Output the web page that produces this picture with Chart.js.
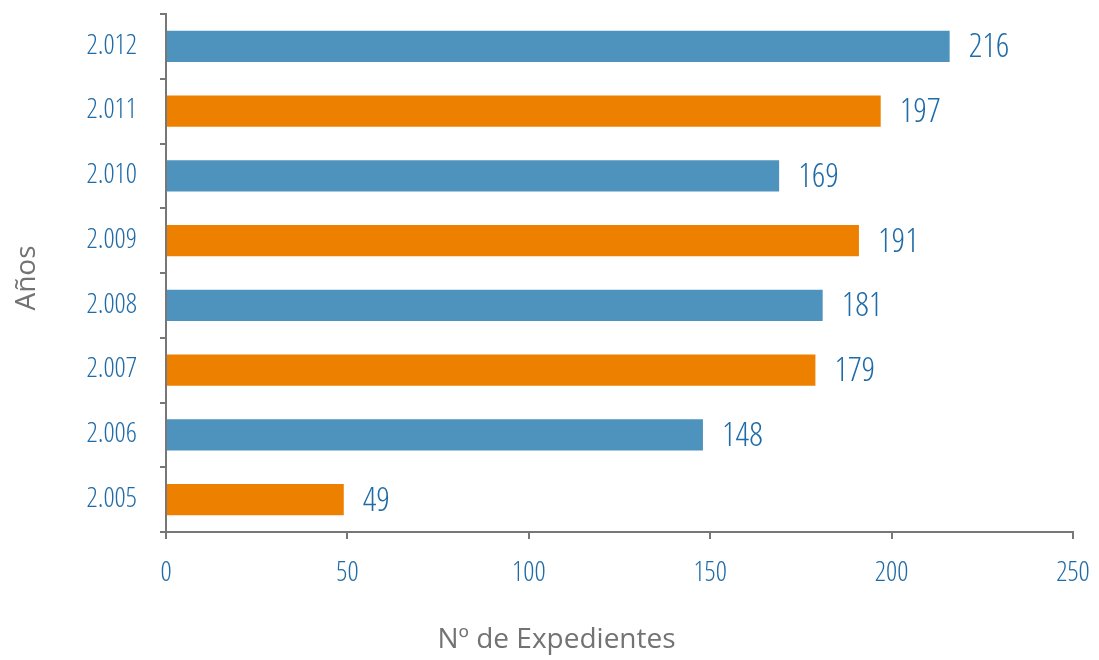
<!DOCTYPE html>
<html>
<head>
<meta charset="utf-8">
<script src="https://cdn.jsdelivr.net/npm/chart.js@4"></script>
<style>
  html, body { margin: 0; padding: 0; background: #fff; }
  #wrap { width: 1099px; height: 660px; }
</style>
</head>
<body>
<div id="wrap"><canvas id="barChart" width="1099" height="660"></canvas></div>
<script>
(() => {
    'use strict';

    // Datos (años en orden cronológico)
    const years = ['2.005', '2.006', '2.007', '2.008', '2.009', '2.010', '2.011', '2.012'];
    const expedientes = [49, 148, 179, 181, 191, 169, 197, 216];
    const xTicks = [0, 50, 100, 150, 200, 250];

    const BLUE = '#4d93be';
    const ORANGE = '#ee8000';
    const TEXT_BLUE = '#1f6ba8';
    const GREY = '#777777';
    const FONT = "'Open Sans Condensed Light', 'Roboto Condensed', sans-serif";
    const TITLE_FONT = "'Open Sans', sans-serif";

    const barColors = years.map((y, i) => (i % 2 === 0 ? ORANGE : BLUE));

    // Etiquetas de valor al final de cada barra
    const valueLabels = {
        id: 'valueLabels',
        afterDatasetsDraw(chart) {
            const ctx = chart.ctx;
            const meta = chart.getDatasetMeta(0);
            ctx.save();
            ctx.font = '34px ' + FONT;
            ctx.fillStyle = TEXT_BLUE;
            ctx.textAlign = 'left';
            ctx.textBaseline = 'middle';
            meta.data.forEach((bar, i) => {
                ctx.fillText(String(expedientes[i]), bar.x + 19, bar.y + 2);
            });
            ctx.restore();
        }
    };

    // Títulos de los ejes
    const axisTitles = {
        id: 'axisTitles',
        afterDraw(chart) {
            const ctx = chart.ctx;
            const area = chart.chartArea;
            ctx.save();
            ctx.font = '28px ' + TITLE_FONT;
            ctx.fillStyle = '#737373';
            ctx.textAlign = 'center';
            ctx.textBaseline = 'middle';
            ctx.fillText('Nº de Expedientes', (area.left + area.right) / 2 - 63, area.bottom + 108);
            ctx.translate(27, (area.top + area.bottom) / 2 + 5);
            ctx.rotate(-Math.PI / 2);
            ctx.fillText('Años', 0, 0);
            ctx.restore();
        }
    };

    new Chart(document.getElementById('barChart'), {
        type: 'bar',
        data: {
            labels: years,
            datasets: [{
                data: expedientes,
                backgroundColor: barColors,
                borderWidth: 0,
                barPercentage: 0.48,
                categoryPercentage: 1
            }]
        },
        options: {
            indexAxis: 'y',
            responsive: false,
            animation: false,
            layout: { padding: { top: 14, right: 26, left: 0, bottom: 0 } },
            scales: {
                x: {
                    min: 0,
                    max: 250,
                    afterBuildTicks: scale => { scale.ticks = xTicks.map(v => ({ value: v })); },
                    afterFit: scale => {
                        scale.height = 128;
                        scale.paddingLeft = 0;
                        scale.paddingRight = 0;
                    },
                    grid: { drawOnChartArea: false, drawTicks: true, tickLength: 7, color: GREY, lineWidth: 2 },
                    border: { color: GREY, width: 2 },
                    ticks: { color: TEXT_BLUE, font: { family: FONT, size: 28 }, padding: 18, maxRotation: 0 }
                },
                y: {
                    reverse: true,
                    afterFit: scale => {
                        scale.width = 166;
                        scale.paddingTop = 0;
                        scale.paddingBottom = 0;
                    },
                    grid: { drawOnChartArea: false, drawTicks: true, tickLength: 6, color: GREY, lineWidth: 2, offset: true },
                    border: { color: GREY, width: 2 },
                    ticks: { color: TEXT_BLUE, font: { family: FONT, size: 28 }, padding: 23 }
                }
            },
            plugins: {
                legend: { display: false },
                tooltip: { enabled: false }
            }
        },
        plugins: [valueLabels, axisTitles]
    });
})();
</script>
</body>
</html>
